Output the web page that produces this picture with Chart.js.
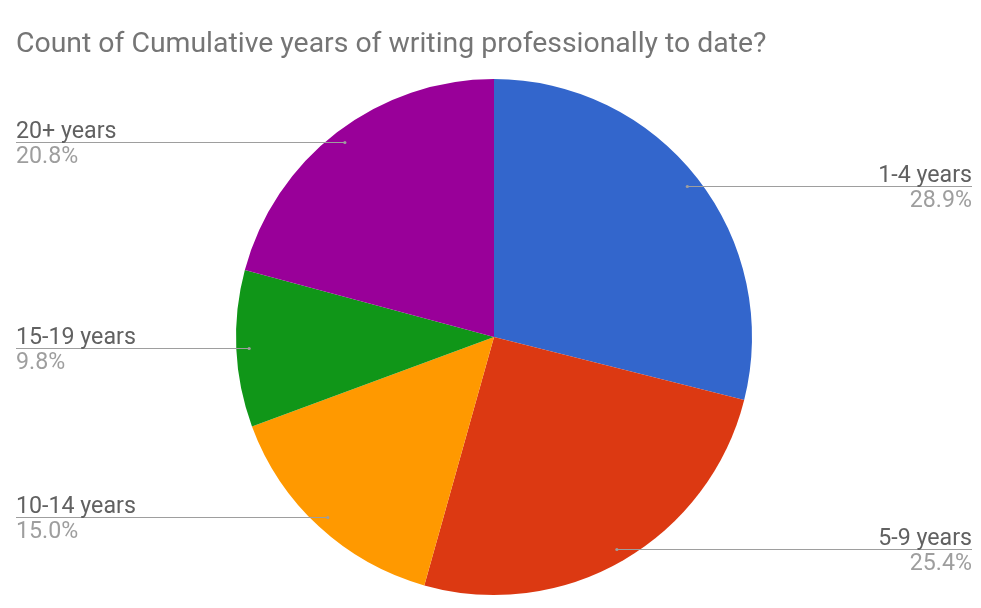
<!DOCTYPE html>
<html>
<head>
<meta charset="utf-8">
<script src="https://cdn.jsdelivr.net/npm/chart.js@4.4.0/dist/chart.umd.min.js"></script>
<style>
html,body{margin:0;padding:0;background:#fff;}
#wrap{width:981px;height:608px;position:relative;}
</style>
</head>
<body>
<div id="wrap"><canvas id="c"></canvas></div>
<script>
const chartTitle = "Count of Cumulative years of writing professionally to date?";
const categories = ["1-4 years", "5-9 years", "10-14 years", "15-19 years", "20+ years"];
const percentValues = [28.9, 25.4, 15.0, 9.8, 20.8];
const sliceColors = ["#3366cc", "#dc3912", "#ff9900", "#109618", "#990099"];

const FONT = "Roboto, 'Noto Sans', sans-serif";

const titlePlugin = {
  id: 'gTitle',
  afterDraw(chart) {
    const ctx = chart.ctx;
    ctx.save();
    ctx.font = "28.4px " + FONT;
    ctx.fillStyle = "#757575";
    ctx.textAlign = "left";
    ctx.textBaseline = "alphabetic";
    ctx.fillText(chartTitle, 16, 52);
    ctx.restore();
  }
};

const labelPlugin = {
  id: 'gLabels',
  afterDatasetsDraw(chart) {
    const ctx = chart.ctx;
    const meta = chart.getDatasetMeta(0);
    const W = chart.width;
    ctx.save();
    meta.data.forEach((arc, i) => {
      const p = arc.getProps(['x','y','startAngle','endAngle','outerRadius'], true);
      const mid = (p.startAngle + p.endAngle) / 2;
      const r = p.outerRadius * 0.95;
      const dx = p.x + Math.cos(mid) * r;
      const dy = Math.round(p.y + Math.sin(mid) * r) + 0.5;
      const right = Math.cos(mid) >= 0;
      const edge = right ? W - 9 : 16;
      ctx.strokeStyle = "#9e9e9e";
      ctx.lineWidth = 1;
      ctx.beginPath();
      ctx.moveTo(dx, dy);
      ctx.lineTo(edge, dy);
      ctx.stroke();
      ctx.fillStyle = "#9e9e9e";
      ctx.beginPath();
      ctx.arc(dx, dy, 1.6, 0, Math.PI * 2);
      ctx.fill();
      ctx.textAlign = right ? "right" : "left";
      ctx.textBaseline = "alphabetic";
      ctx.font = "23.2px " + FONT;
      ctx.fillStyle = "#616161";
      ctx.fillText(categories[i], edge, dy - 5);
      ctx.fillStyle = "#9e9e9e";
      ctx.fillText(percentValues[i].toFixed(1) + "%", edge, dy + 20);
    });
    ctx.restore();
  }
};

new Chart(document.getElementById('c'), {
  type: 'pie',
  data: {
    labels: categories,
    datasets: [{
      data: percentValues,
      backgroundColor: sliceColors,
      borderWidth: 0
    }]
  },
  options: {
    responsive: true,
    maintainAspectRatio: false,
    animation: false,
    layout: { padding: { top: 79, bottom: 13, left: 100, right: 93 } },
    plugins: {
      legend: { display: false },
      tooltip: { enabled: false },
      title: { display: false }
    }
  },
  plugins: [titlePlugin, labelPlugin]
});
</script>
</body>
</html>
